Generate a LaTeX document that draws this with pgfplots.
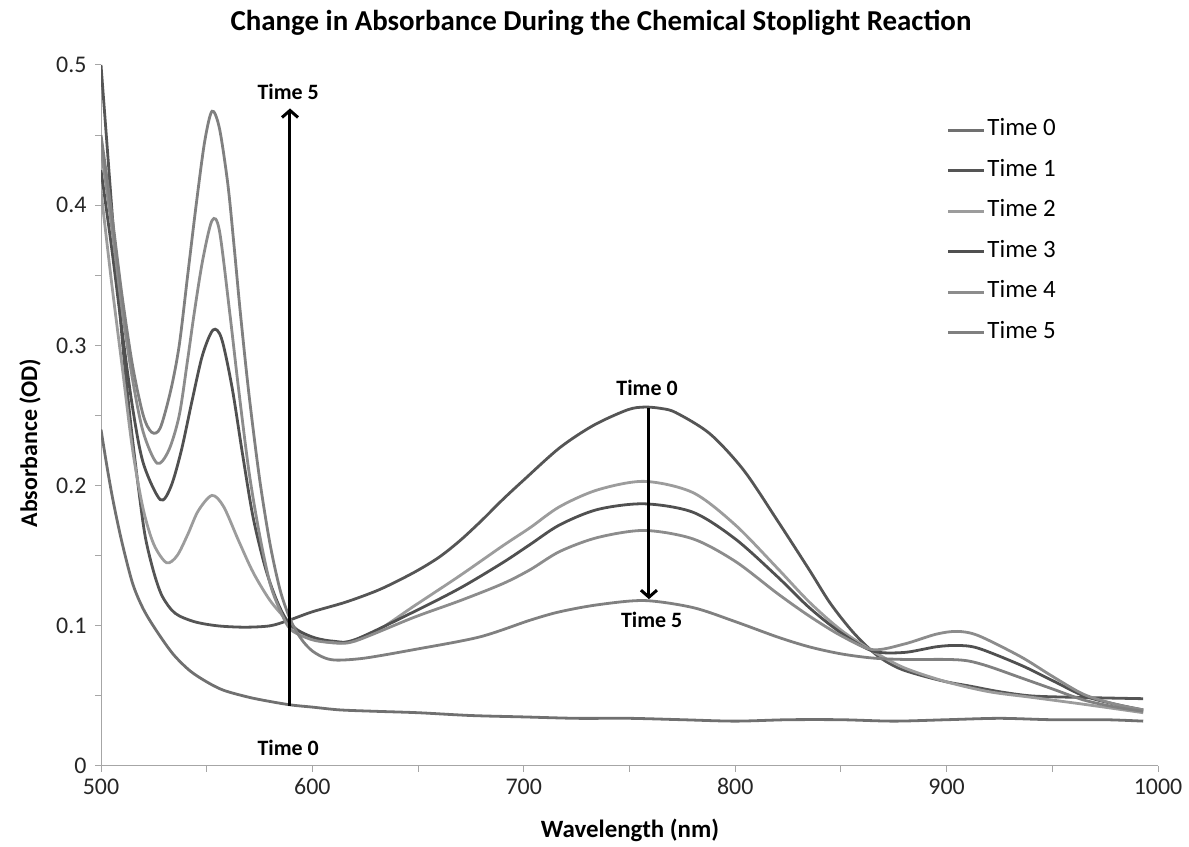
\documentclass[border=0pt]{standalone}
\usepackage{fontspec}
\setmainfont{Carlito}
\usepackage{pgfplots}
\pgfplotsset{compat=1.18}
\usetikzlibrary{arrows.meta}
\definecolor{cA}{HTML}{707070}
\definecolor{cB}{HTML}{555555}
\definecolor{cC}{HTML}{9C9C9C}
\definecolor{cD}{HTML}{505050}
\definecolor{cE}{HTML}{8C8C8C}
\definecolor{cF}{HTML}{808080}
\begin{document}
\begin{tikzpicture}[x=1bp,y=1bp]
\useasboundingbox (0,0) rectangle (1189,847);
\begin{axis}[
  at={(101bp,81bp)}, anchor=south west,
  scale only axis, width=1057bp, height=701bp,
  xmin=500, xmax=1000, ymin=0, ymax=0.5,
  axis lines*=left,
  axis line style={draw=gray!70, line width=1bp},
  xtick={500,600,...,1000}, minor xtick={550,650,...,950},
  ytick={0,0.1,...,0.5}, minor ytick={0.05,0.15,...,0.45},
  tick align=outside, major tick length=6bp, minor tick length=6bp,
  tick style={draw=gray!70, line width=1bp},
  xtick pos=left, ytick pos=left,
  /pgf/number format/assume math mode=true,
  /pgf/number format/1000 sep={},
  tick label style={font=\fontsize{24}{26}\selectfont, text=black!85},
  xticklabel style={yshift=-3bp},
  yticklabel style={xshift=-5bp},
  legend style={at={(rel axis cs:0.797,0.928)}, anchor=north west, draw=none, fill=none,
    font=\fontsize{25}{27}\selectfont, row sep=15.5bp,
    nodes={inner sep=2bp, text height=16bp, text depth=5bp}},
  legend cell align=left,
  legend image code/.code={\draw[#1, line width=2.8bp] (0bp,0bp) -- (36bp,0bp);},
  every axis plot/.append style={line width=2.8bp, smooth, tension=0.5},
]
% Time 0
\addplot[cA] coordinates {(500,0.240) (503,0.212) (506,0.187) (510,0.159) (515,0.130) (520,0.112) (526,0.097) (534,0.080) (542,0.068) (550,0.060) (558,0.054) (570,0.049) (580,0.046) (590,0.0435) (600,0.042) (613,0.040) (630,0.039) (650,0.038) (675,0.036) (700,0.035) (725,0.034) (750,0.034) (775,0.033) (800,0.032) (825,0.033) (850,0.033) (875,0.032) (900,0.033) (925,0.034) (950,0.033) (975,0.033) (993,0.032)};
\addlegendentry{Time 0}
% Time 1
\addplot[cB] coordinates {(500,0.500) (503,0.440) (506,0.380) (510,0.305) (514,0.245) (518,0.195) (521,0.163) (525,0.138) (529,0.121) (535,0.109) (544,0.103) (555,0.100) (568,0.099) (580,0.100) (589,0.104) (600,0.110) (616,0.117) (632,0.126) (648,0.138) (660,0.149) (670,0.161) (680,0.175) (690,0.190) (700,0.204) (717,0.227) (733,0.243) (749,0.254) (757,0.256) (765,0.255) (772,0.252) (788,0.237) (804,0.211) (820,0.175) (835,0.140) (845,0.116) (856,0.095) (867,0.079) (877,0.070) (887,0.065) (900,0.060) (911,0.057) (925,0.053) (940,0.050) (960,0.049) (993,0.048)};
\addlegendentry{Time 1}
% Time 2
\addplot[cC] coordinates {(500,0.410) (505,0.345) (510,0.285) (515,0.225) (520,0.183) (525,0.158) (531,0.145) (536,0.150) (541,0.165) (546,0.182) (552.5,0.193) (558,0.185) (565,0.161) (572,0.138) (580,0.118) (588,0.104) (595,0.095) (605,0.089) (615,0.088) (630,0.096) (648,0.114) (670,0.136) (690,0.157) (703,0.170) (717,0.185) (735,0.197) (757,0.203) (780,0.195) (800,0.172) (820,0.141) (835,0.117) (850,0.097) (865,0.082) (880,0.070) (900,0.060) (920,0.053) (940,0.049) (965,0.044) (993,0.038)};
\addlegendentry{Time 2}
% Time 3
\addplot[cD] coordinates {(500,0.425) (505,0.370) (510,0.310) (515,0.255) (520,0.216) (528,0.190) (533,0.199) (538,0.225) (543,0.260) (548,0.293) (553,0.311) (557,0.305) (562,0.270) (567,0.222) (572,0.177) (578,0.140) (584,0.115) (590,0.100) (600,0.092) (610,0.089) (620,0.090) (648,0.110) (670,0.127) (690,0.145) (703,0.158) (717,0.172) (735,0.183) (757,0.187) (780,0.181) (800,0.162) (820,0.135) (835,0.113) (850,0.095) (865,0.082) (880,0.081) (895,0.085) (905,0.086) (915,0.084) (935,0.072) (950,0.061) (965,0.050) (980,0.044) (993,0.040)};
\addlegendentry{Time 3}
% Time 4
\addplot[cE] coordinates {(500,0.440) (505,0.385) (510,0.325) (515,0.275) (520,0.238) (526.5,0.216) (532,0.225) (537,0.250) (541,0.290) (544,0.322) (548,0.360) (552.5,0.389) (556,0.382) (561,0.322) (565,0.270) (570,0.210) (575,0.165) (580,0.130) (585,0.110) (590,0.097) (600,0.090) (610,0.088) (620,0.089) (648,0.106) (670,0.118) (690,0.130) (703,0.140) (717,0.153) (735,0.163) (757,0.168) (780,0.162) (800,0.146) (820,0.123) (835,0.107) (850,0.093) (865,0.083) (880,0.087) (895,0.094) (905,0.096) (915,0.093) (935,0.078) (950,0.064) (965,0.051) (980,0.044) (993,0.040)};
\addlegendentry{Time 4}
% Time 5
\addplot[cF] coordinates {(500,0.450) (505,0.395) (510,0.335) (515,0.285) (520,0.250) (524,0.238) (528,0.241) (533,0.268) (537,0.300) (541,0.350) (545,0.400) (549,0.445) (552.5,0.467) (556,0.455) (560,0.415) (563,0.370) (566,0.322) (570,0.265) (575,0.205) (580,0.158) (585,0.124) (590,0.103) (595,0.090) (600,0.082) (606,0.077) (612,0.0755) (625,0.077) (648,0.083) (679,0.092) (703,0.104) (717,0.110) (735,0.115) (757,0.118) (780,0.113) (800,0.103) (820,0.092) (835,0.085) (850,0.080) (865,0.077) (880,0.076) (900,0.076) (910,0.075) (920,0.071) (935,0.063) (950,0.055) (965,0.047) (980,0.042) (993,0.039)};
\addlegendentry{Time 5}
% arrows
\addplot[forget plot, black, line width=3bp, sharp plot, -{Straight Barb[length=7bp, width=16bp, line width=3bp]}] coordinates {(589.4,0.043) (589.4,0.469)};
\addplot[forget plot, black, line width=3bp, sharp plot, -{Straight Barb[length=7bp, width=16bp, line width=3bp]}] coordinates {(759.2,0.255) (759.2,0.119)};
\node[font=\bfseries\fontsize{22}{24}\selectfont] at (axis cs:588.5,0.481) {Time 5};
\node[font=\bfseries\fontsize{22}{24}\selectfont] at (axis cs:588.5,0.0128) {Time 0};
\node[font=\bfseries\fontsize{22}{24}\selectfont] at (axis cs:758.3,0.270) {Time 0};
\node[font=\bfseries\fontsize{22}{24}\selectfont] at (axis cs:760.5,0.104) {Time 5};
\end{axis}
\node[font=\bfseries\fontsize{29}{32}\selectfont] at (601,824) {Change in Absorbance During the Chemical Stoplight Reaction};
\node[font=\bfseries\fontsize{25}{27}\selectfont] at (630,17) {Wavelength (nm)};
\node[font=\bfseries\fontsize{24}{26}\selectfont, rotate=90] at (30,404) {Absorbance (OD)};
\end{tikzpicture}
\end{document}
